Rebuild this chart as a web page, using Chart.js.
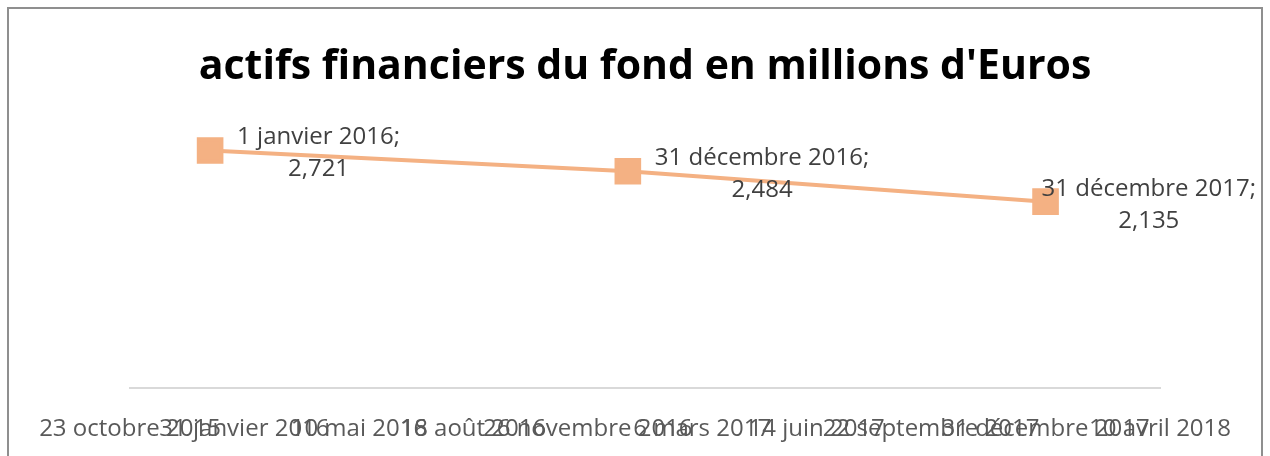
<!DOCTYPE html>
<html>
<head>
<meta charset="utf-8">
<script src="https://cdn.jsdelivr.net/npm/chart.js@4.4.0/dist/chart.umd.min.js"></script>
<style>
  html, body { margin: 0; padding: 0; background: #fff; }
  #frame { position: absolute; left: 7px; top: 7px; width: 1256px; height: 470px; border: 2px solid #8f8f8f; box-sizing: border-box; }
  #wrap { position: absolute; left: 0; top: 0; width: 1270px; height: 456px; }
</style>
</head>
<body>
<div id="frame"></div>
<div id="wrap"><canvas id="fundChart" width="1270" height="456"></canvas></div>
<script>
// data
const pointDates = ['2016-01-01', '2016-12-31', '2017-12-31'];
const pointNames = ['1 janvier 2016', '31 décembre 2016', '31 décembre 2017'];
const assetValues = [2721, 2484, 2135];

// date axis (spreadsheet style day numbers)
const axisStart = '2015-10-23';
const axisEnd = '2018-04-10';
const tickStepDays = 100;
const monthNames = ['janvier', 'février', 'mars', 'avril', 'mai', 'juin',
  'juillet', 'août', 'septembre', 'octobre', 'novembre', 'décembre'];

const DAY = 86400000;
const EPOCH = Date.UTC(1899, 11, 30);

function toSerial(iso) {
  return Math.round((Date.parse(iso + 'T00:00:00Z') - EPOCH) / DAY);
}

function serialToLabel(value) {
  const d = new Date(EPOCH + value * DAY);
  return d.getUTCDate() + ' ' + monthNames[d.getUTCMonth()] + ' ' + d.getUTCFullYear();
}

const lineColor = '#f4b183';
const fontFamily = '"Open Sans", "Noto Sans", sans-serif';

// draws "date; value" next to each point
const pointLabelPlugin = {
  id: 'pointLabels',
  afterDatasetsDraw(chart) {
    const ctx = chart.ctx;
    const meta = chart.getDatasetMeta(0);
    ctx.save();
    ctx.font = '24px ' + fontFamily;
    ctx.fillStyle = '#404040';
    ctx.textAlign = 'center';
    ctx.textBaseline = 'middle';
    meta.data.forEach(function (pt, i) {
      const line1 = pointNames[i] + ';';
      const line2 = assetValues[i].toLocaleString('en-US');
      const w = ctx.measureText(line1).width;
      let cx = pt.x + 27 + w / 2;
      const maxRight = chart.width - 14;
      if (cx + w / 2 > maxRight) cx = maxRight - w / 2;
      ctx.fillText(line1, cx, pt.y - 13);
      ctx.fillText(line2, cx, pt.y + 19);
    });
    ctx.restore();
  }
};

const canvas = document.getElementById('fundChart');
new Chart(canvas, {
  type: 'line',
  data: {
    datasets: [{
      data: pointDates.map(function (d, i) { return { x: toSerial(d), y: assetValues[i] }; }),
      borderColor: lineColor,
      backgroundColor: lineColor,
      borderWidth: 4,
      pointStyle: 'rect',
      pointRadius: 16,
      pointBorderColor: lineColor,
      pointBackgroundColor: lineColor,
      tension: 0
    }]
  },
  options: {
    responsive: false,
    animation: false,
    layout: {
      padding: { top: 10, left: 130, right: 110, bottom: 0 }
    },
    scales: {
      x: {
        type: 'linear',
        min: toSerial(axisStart),
        max: toSerial(axisEnd),
        grid: { display: false, drawTicks: false },
        border: { color: '#d9d9d9', width: 2 },
        ticks: {
          stepSize: tickStepDays,
          autoSkip: false,
          maxRotation: 0,
          padding: 27,
          color: '#595959',
          font: { family: fontFamily, size: 24 },
          callback: function (value) { return serialToLabel(value); }
        },
        afterFit: function (scale) { scale.height = 68; }
      },
      y: {
        display: false,
        min: 0,
        max: 3000
      }
    },
    plugins: {
      legend: { display: false },
      tooltip: { enabled: false },
      title: {
        display: true,
        text: "actifs financiers du fond en millions d'Euros",
        color: '#000',
        font: { family: fontFamily, size: 41, weight: 'bold' },
        padding: { top: 33, bottom: 34 }
      }
    }
  },
  plugins: [pointLabelPlugin]
});
</script>
</body>
</html>
